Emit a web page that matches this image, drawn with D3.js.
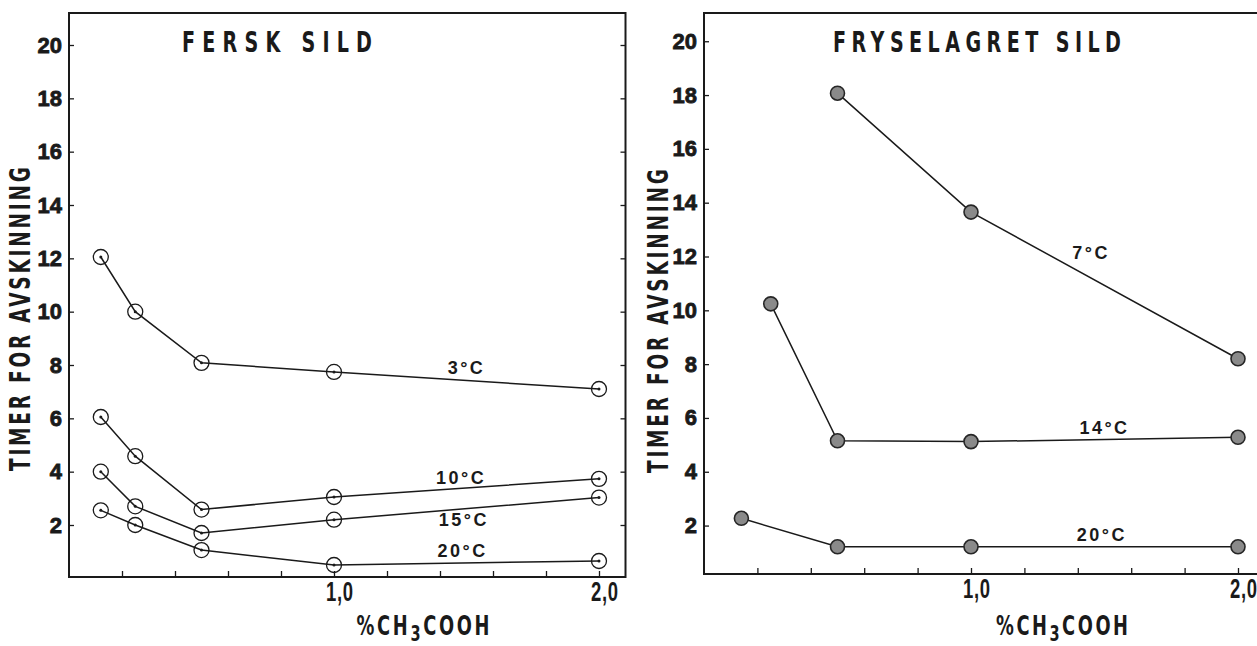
<!DOCTYPE html>
<html>
<head>
<meta charset="utf-8">
<script src="https://cdn.jsdelivr.net/npm/d3@7"></script>
<style>
  body { margin: 0; background: #fff; }
  svg { display: block; }
  .tick text { font-family: "Liberation Sans", Arial, sans-serif; font-weight: bold; fill: #1a1a1a; }
  .cond { font-family: "DejaVu Sans", sans-serif; font-weight: bold; fill: #1a1a1a; }
  .temp { font-family: "Liberation Sans", Arial, sans-serif; font-weight: bold; font-size: 18px; fill: #1a1a1a; letter-spacing: 2.5px; }
</style>
</head>
<body>
<svg id="chart" width="1257" height="646"></svg>
<script>
// values (x = % CH3COOH, y = hours)
const xFresh = [0.12, 0.25, 0.5, 1.0, 2.0];
const fresh3 = [12.05, 10.0, 8.08, 7.74, 7.1];
const fresh10 = [6.05, 4.58, 2.58, 3.05, 3.73];
const fresh15 = [4.0, 2.7, 1.7, 2.2, 3.03];
const fresh20 = [2.55, 2.0, 1.06, 0.5, 0.65];

const xFrozen7 = [0.5, 1.0, 2.0];
const frozen7 = [18.07, 13.65, 8.2];
const xFrozen14 = [0.25, 0.5, 1.0, 2.0];
const frozen14 = [10.24, 5.15, 5.12, 5.28];
const xFrozen20 = [0.14, 0.5, 1.0, 2.0];
const frozen20 = [2.27, 1.21, 1.21, 1.21];

const yTicks = [2, 4, 6, 8, 10, 12, 14, 16, 18, 20];
const xTicks = [0.2, 0.4, 0.6, 0.8, 1.0, 1.2, 1.4, 1.6, 1.8, 2.0];
const xTickLabels = { 1: '1,0', 2: '2,0' };

const NARROW = 0.66; // old typewriter-ish condensed lettering

const svg = d3.select('#chart');

// tall narrow lettering: scale the x direction, keep the height
function narrowText(g, tf, size, len, parts) {
    const t = g.append('text').attr('class', 'cond')
        .attr('transform', `${tf} scale(${NARROW},1)`)
        .attr('text-anchor', 'middle').attr('font-size', size)
        .attr('textLength', len / NARROW).attr('lengthAdjust', 'spacing');
    parts.forEach(p => {
        const s = t.append('tspan').text(p.t);
        if (p.dy) s.attr('dy', p.dy);
        if (p.size) s.attr('font-size', p.size);
    });
    return t;
}

function drawPanel(p) {
    const g = svg.append('g');
    const x = d3.scaleLinear().domain([0, 2.1]).range(p.xRange);
    const y = d3.scaleLinear().domain(p.yDomain).range([p.bottom, 13]);

    // frame
    g.append('rect')
        .attr('x', x(0)).attr('y', y.range()[1])
        .attr('width', x(2.1) - x(0)).attr('height', y.range()[0] - y.range()[1])
        .attr('fill', 'none').attr('stroke', '#1a1a1a').attr('stroke-width', 2);

    // axes, ticks pointing into the plot
    const left = g.append('g').attr('transform', `translate(${x(0)},0)`)
        .call(d3.axisLeft(y).tickValues(yTicks).tickSize(-5).tickPadding(7));
    left.selectAll('text').attr('font-size', 22)
        .attr('stroke', '#1a1a1a').attr('stroke-width', 0.8);
    g.append('g').attr('transform', `translate(${x(2.1)},0)`)
        .call(d3.axisRight(y).tickValues(yTicks).tickSize(-5).tickFormat(''));
    const bottom = g.append('g').attr('transform', `translate(0,${y.range()[0]})`)
        .call(d3.axisBottom(x).tickValues(xTicks).tickSize(-6).tickPadding(4)
            .tickFormat(d => xTickLabels[d] || ''));
    bottom.selectAll('text').attr('class', 'cond').attr('font-size', 28)
        .attr('transform', `scale(${NARROW},1)`).attr('dx', 8)
        .attr('letter-spacing', 1);
    g.selectAll('.domain').remove();
    g.selectAll('.tick line').attr('stroke', '#1a1a1a').attr('stroke-width', 1.3);

    // titles
    narrowText(g, `translate(${p.title.cx},52)`, 29, p.title.len, [{ t: p.title.text }]);
    narrowText(g, `translate(${p.yLabelX},${p.yLabelCy}) rotate(-90)`, 28, 304,
        [{ t: 'TIMER FOR AVSKINNING' }])
        .attr('dominant-baseline', 'central');
    narrowText(g, `translate(${p.xLabelCx},635)`, 27, p.xLabelLen,
        [{ t: '%CH' }, { t: '3', dy: 6, size: 22 }, { t: 'COOH', dy: -6 }]);

    const line = d3.line().x(d => x(d[0])).y(d => y(d[1]));

    p.series.forEach(s => {
        const pts = s.xs.map((v, i) => [v, s.ys[i]]);
        g.append('path').datum(pts)
            .attr('d', line)
            .attr('fill', 'none').attr('stroke', '#1a1a1a').attr('stroke-width', 1.5);

        const m = g.append('g').selectAll('g').data(pts).join('g')
            .attr('transform', d => `translate(${x(d[0])},${y(d[1])})`);
        if (p.filled) {
            m.append('circle').attr('r', 7)
                .attr('fill', '#8a8a8a').attr('stroke', '#262626').attr('stroke-width', 1.6);
        } else {
            m.append('circle').attr('r', 7.5)
                .attr('fill', 'none').attr('stroke', '#1a1a1a').attr('stroke-width', 1.3);
            m.append('circle').attr('r', 1.5).attr('fill', '#1a1a1a');
        }

        g.append('text').attr('class', 'temp')
            .attr('x', x(s.labelAt[0])).attr('y', y(s.labelAt[1]))
            .attr('text-anchor', 'middle').attr('dominant-baseline', 'central')
            .text(s.label);
    });
}

drawPanel({
    xRange: [69, 625.5],
    yDomain: [0.05, 21.2],
    bottom: 577,
    title: { text: 'FERSK  SILD', cx: 277, len: 190 },
    yLabelX: 21, yLabelCy: 319,
    xLabelCx: 423, xLabelLen: 133,
    filled: false,
    series: [
        { label: '3°C', xs: xFresh, ys: fresh3, labelAt: [1.5, 7.9] },
        { label: '10°C', xs: xFresh, ys: fresh10, labelAt: [1.48, 3.76] },
        { label: '15°C', xs: xFresh, ys: fresh15, labelAt: [1.49, 2.19] },
        { label: '20°C', xs: xFresh, ys: fresh20, labelAt: [1.485, 1.02] }
    ]
});

drawPanel({
    xRange: [704, 1264.7],
    yDomain: [0.2, 21.05],
    bottom: 574,
    title: { text: 'FRYSELAGRET  SILD', cx: 977, len: 288 },
    yLabelX: 659, yLabelCy: 321,
    xLabelCx: 1062, xLabelLen: 132,
    filled: true,
    series: [
        { label: '7°C', xs: xFrozen7, ys: frozen7, labelAt: [1.45, 12.13] },
        { label: '14°C', xs: xFrozen14, ys: frozen14, labelAt: [1.5, 5.63] },
        { label: '20°C', xs: xFrozen20, ys: frozen20, labelAt: [1.49, 1.65] }
    ]
});
</script>
</body>
</html>
